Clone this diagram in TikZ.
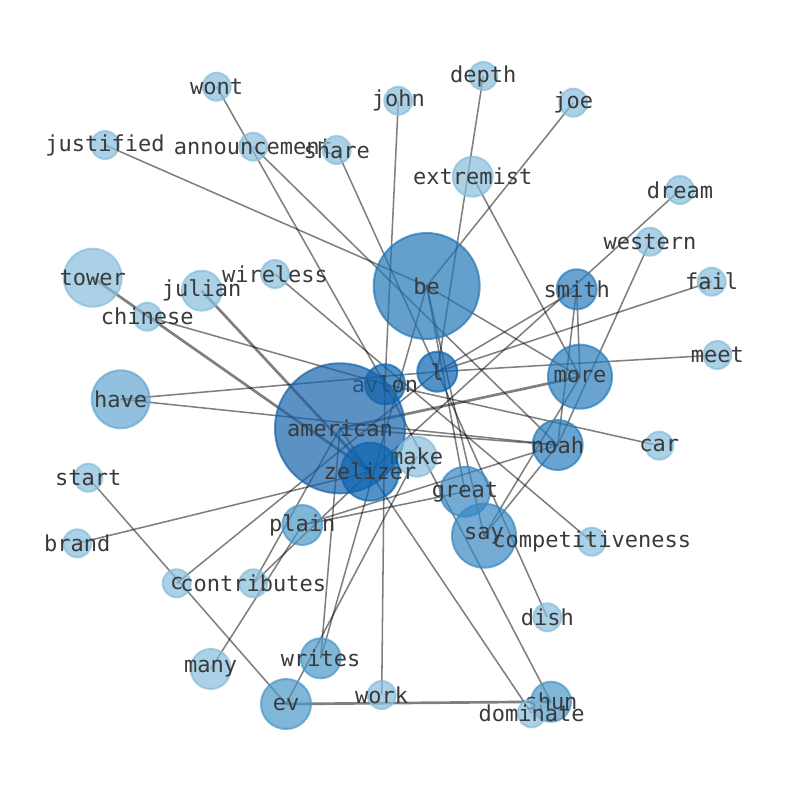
\documentclass[tikz,border=0pt]{standalone}
\usepackage{fontspec}
\setmonofont{DejaVu Sans Mono}
\pgfdeclarelayer{bg}
\pgfsetlayers{bg,main}
\definecolor{ka}{HTML}{86BDDB}
\definecolor{kb}{HTML}{62A6D0}
\definecolor{kc}{HTML}{4A97C7}
\definecolor{kd}{HTML}{3788C3}
\definecolor{ke}{HTML}{297CBB}
\definecolor{kf}{HTML}{2477B8}
\definecolor{kg}{HTML}{0A64B0}
\definecolor{kh}{HTML}{1662A9}
\definecolor{txt}{HTML}{3A3A3A}
\begin{document}
\begin{tikzpicture}[x=0.75pt,y=-0.75pt,
  nd/.style={circle,inner sep=0,minimum size=#1,fill opacity=0.7,draw opacity=0.7,line width=1.5pt},
  lb/.style={font=\ttfamily\fontsize{16.5}{18}\selectfont,text=txt,inner sep=0,anchor=center},
  ed/.style={draw=black,draw opacity=0.5,line width=1.15pt},
  edt/.style={draw=black,draw opacity=0.5,line width=2pt}]
\useasboundingbox (0,0) rectangle (794,790);
\newcommand{\nn}[6]{\node[nd=#5,fill=#4,draw=#4] (#1) at (#2,#3) {};\node[lb] at (#1.center) {#6};}
\nn{wont}{216.7}{86.7}{ka}{21pt}{wont}
\nn{john}{398.3}{100.7}{ka}{21pt}{john}
\nn{depth}{483.3}{76}{ka}{21pt}{depth}
\nn{joe}{573.3}{102.7}{ka}{21pt}{joe}
\nn{justified}{105}{145}{ka}{21pt}{justified}
\nn{announcement}{253.3}{146.7}{ka}{21pt}{announcement}
\nn{share}{336.7}{150}{ka}{21pt}{share}
\nn{extremist}{472.7}{176.7}{ka}{30pt}{extremist}
\nn{dream}{680}{190}{ka}{21pt}{dream}
\nn{western}{650}{241.7}{ka}{21pt}{western}
\nn{fail}{711.7}{281.7}{ka}{21pt}{fail}
\nn{tower}{92.7}{277.7}{ka}{43.5pt}{tower}
\nn{julian}{201.7}{290.7}{ka}{30pt}{julian}
\nn{wireless}{275}{274}{ka}{21pt}{wireless}
\nn{chinese}{147.3}{316.7}{ka}{21pt}{chinese}
\nn{be}{426.7}{286}{kf}{79.5pt}{be}
\nn{smith}{576.7}{289.3}{ke}{30pt}{smith}
\nn{l}{437.3}{371.7}{kg}{30pt}{l}
\nn{meet}{717.3}{355}{ka}{21pt}{meet}
\nn{avlon}{385}{384.3}{kg}{30pt}{avlon}
\nn{more}{580}{376.7}{ke}{48pt}{more}
\nn{have}{120.7}{399.3}{kb}{43.5pt}{have}
\nn{american}{340}{428.3}{kh}{97.5pt}{american}
\nn{noah}{557.7}{445}{ke}{37.5pt}{noah}
\nn{car}{659.3}{445.7}{ka}{21pt}{car}
\nn{make}{416.7}{456.7}{ka}{30pt}{make}
\nn{zelizer}{370}{471.7}{kg}{43.5pt}{zelizer}
\nn{great}{465}{491.7}{kd}{37.5pt}{great}
\nn{start}{88.3}{477.7}{ka}{21pt}{start}
\nn{say}{484}{535.7}{kd}{48pt}{say}
\nn{comp}{591.7}{541.7}{ka}{21pt}{competitiveness}
\nn{brand}{77.3}{543.3}{ka}{21pt}{brand}
\nn{plain}{302.3}{525}{kc}{30pt}{plain}
\nn{c}{176.7}{583.3}{ka}{21pt}{c}
\nn{contributes}{253.3}{583.3}{ka}{21pt}{contributes}
\nn{dish}{547.3}{617.3}{ka}{21pt}{dish}
\nn{writes}{320.7}{658.3}{kc}{30pt}{writes}
\nn{many}{210.7}{669}{ka}{30pt}{many}
\nn{ev}{286}{704}{kc}{37.5pt}{ev}
\nn{work}{381.7}{695}{ka}{21pt}{work}
\nn{shun}{551}{701.7}{kc}{30pt}{shun}
\nn{dominate}{531.7}{713.3}{ka}{21pt}{dominate}
\begin{pgfonlayer}{bg}
\foreach \a/\b in {wont/avlon,john/avlon,avlon/work,depth/l,joe/be,justified/be,announcement/noah,share/l,extremist/more,dream/zelizer,western/noah,fail/l,meet/l,wireless/comp,chinese/avlon,avlon/car,have/l,have/noah,american/noah,be/more,smith/l,smith/more,smith/noah,dish/l,c/l,start/ev,brand/zelizer,contributes/american,contributes/zelizer,many/plain,writes/american,writes/be,ev/make,american/dominate,avlon/shun,plain/great,plain/noah,be/great,be/say,more/say,noah/say}
  \draw[ed] (\a.center) -- (\b.center);
\foreach \a/\b in {tower/zelizer,julian/zelizer,american/more,ev/shun}
  \draw[edt] (\a.center) -- (\b.center);
\end{pgfonlayer}
\end{tikzpicture}
\end{document}
